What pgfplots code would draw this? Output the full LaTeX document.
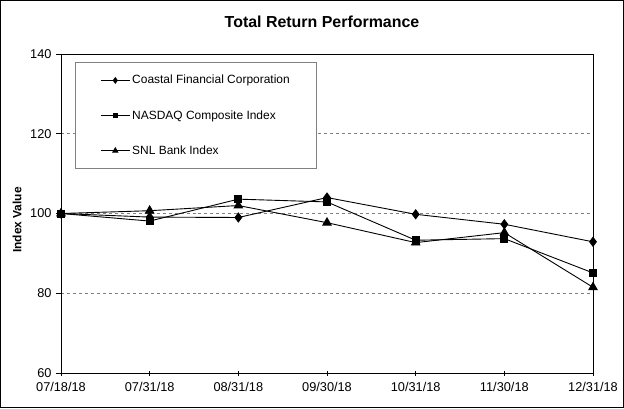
\documentclass[border=0pt]{standalone}
\usepackage{pgfplots}
\pgfplotsset{compat=1.18}
\usepackage{fontspec}
\setmainfont{Liberation Sans}
\begin{document}
\begin{tikzpicture}[x=1bp,y=1bp]
\useasboundingbox (0,0) rectangle (624,408);
\draw[line width=1bp] (0.5,0.5) rectangle (623.5,407.5);
\node[font=\fontsize{16}{18}\selectfont\bfseries] at (322,386) {Total Return Performance};
\node[font=\fontsize{12}{14}\selectfont\bfseries, rotate=90] at (17,188) {Index Value};
\begin{axis}[
  at={(61bp,35bp)}, anchor=south west,
  scale only axis, width=532bp, height=319bp,
  xmin=0, xmax=6, ymin=60, ymax=140,
  xtick={0,1,2,3,4,5,6},
  xticklabels={07/18/18,07/31/18,08/31/18,09/30/18,10/31/18,11/30/18,12/31/18},
  ytick={60,80,100,120,140},
  axis line style={line width=0.9bp},
  x tick style={line width=0.8bp, black}, y tick style={line width=0.8bp, black},
  xtick align=center, ytick align=outside,
  major tick length=5bp,
  xtick pos=bottom, ytick pos=left,
  ymajorgrids, grid style={dashed, gray, line width=0.6bp},
  tick label style={font=\fontsize{12.8}{14}\selectfont},
  /pgf/number format/assume math mode=true,
  xticklabel style={yshift=-3bp},
  yticklabel style={xshift=-1bp},
  legend style={at={(0.0263,0.975)}, anchor=north west, draw=gray, line width=0.7bp,
    font=\fontsize{12}{14}\selectfont, inner xsep=25bp, inner ysep=11bp, row sep=21bp,
    nodes={inner sep=2bp}},
  legend cell align=left,
  legend image code/.code={\draw[mark repeat=2,mark phase=2] plot coordinates {(0bp,0bp) (14.5bp,0bp) (29bp,0bp)};},
  legend image post style={mark options={scale=0.6}},
  every axis plot/.append style={black, line width=0.9bp},
]
\addplot[mark=diamond*, mark size=4.5bp] coordinates {(0,100) (1,99.1) (2,99.0) (3,104.0) (4,99.8) (5,97.3) (6,92.9)};
\addlegendentry{Coastal Financial Corporation}
\addplot[mark=square*, mark size=3.5bp] coordinates {(0,100) (1,98.1) (2,103.6) (3,102.9) (4,93.3) (5,93.7) (6,85.1)};
\addlegendentry{NASDAQ Composite Index}
\addplot[mark=triangle*, mark size=4.8bp] coordinates {(0,100) (1,100.7) (2,102.0) (3,97.7) (4,92.7) (5,95.2) (6,81.5)};
\addlegendentry{SNL Bank Index}
\end{axis}
\end{tikzpicture}
\end{document}
